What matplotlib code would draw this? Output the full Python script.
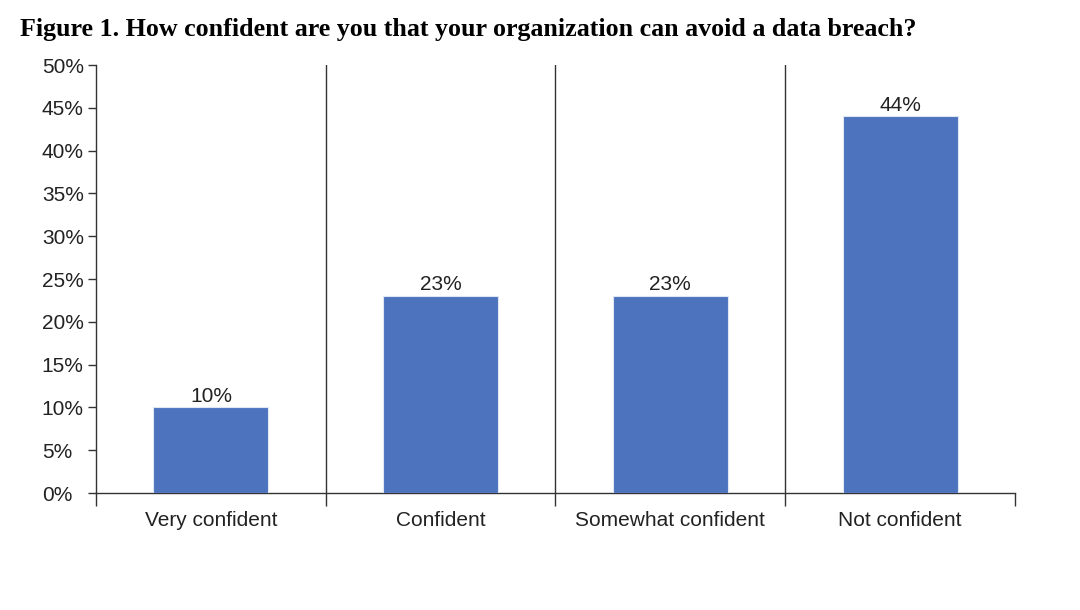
import matplotlib.pyplot as plt
from matplotlib.ticker import FuncFormatter

categories = ["Very confident", "Confident", "Somewhat confident", "Not confident"]
values = [10, 23, 23, 44]
title = "Figure 1. How confident are you that your organization can avoid a data breach?"

plt.rcParams['font.family'] = ['Liberation Sans', 'DejaVu Sans']
line_col = '#333333'

fig = plt.figure(figsize=(10.8, 6.1), dpi=100)
ax = fig.add_axes([0.0889, 0.1918, 0.8509, 0.7016])

x = range(len(categories))
bars = ax.bar(x, values, width=0.5, color='#4e73be', edgecolor='#dfe6f4', linewidth=0.8, zorder=3)
for b, v in zip(bars, values):
    ax.text(b.get_x() + b.get_width() / 2, v + 0.2, f"{v}%", ha='center', va='bottom',
            fontsize=15, color='#222222')

ax.set_xlim(-0.5, len(categories) - 0.5)
ax.set_ylim(0, 50)
ax.set_yticks(range(0, 51, 5))
ax.yaxis.set_major_formatter(FuncFormatter(lambda v, p: f"{int(v)}%"))
ax.set_xticks(list(x))
ax.set_xticklabels(categories)

# category separators
for b in [0.5, 1.5, 2.5]:
    ax.axvline(b, color=line_col, linewidth=1, zorder=1)
ax.set_xticks([-0.5, 0.5, 1.5, 2.5, 3.5], minor=True)
ax.tick_params(axis='x', which='minor', length=9, width=1, color=line_col, direction='out')
ax.tick_params(axis='x', which='major', length=0, pad=13, labelsize=15, labelcolor='#222222')
ax.tick_params(axis='y', length=6, width=1, color=line_col, labelsize=15, labelcolor='#222222', pad=33)
for lab in ax.get_yticklabels():
    lab.set_horizontalalignment('left')

for s in ['top', 'right']:
    ax.spines[s].set_visible(False)
for s in ['left', 'bottom']:
    ax.spines[s].set_color(line_col)
    ax.spines[s].set_linewidth(1)

fig.text(0.0185, 0.952, title, fontsize=18.7, fontweight='bold',
         family=['Liberation Serif', 'DejaVu Serif'], ha='left', va='center')

fig.savefig('out.png', dpi=100, facecolor='white')
